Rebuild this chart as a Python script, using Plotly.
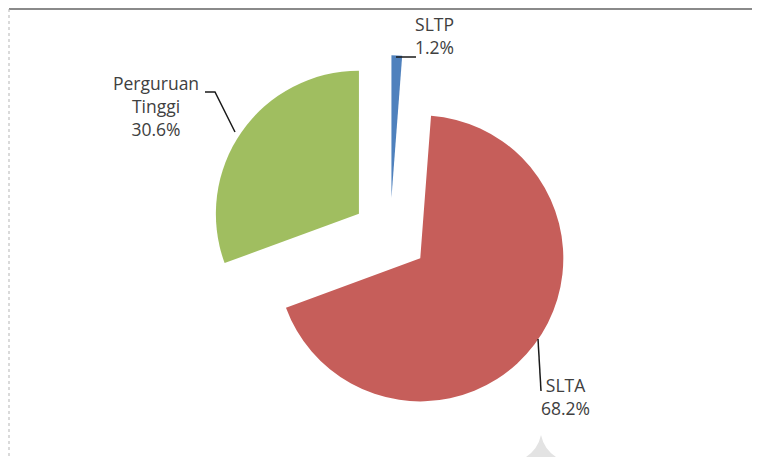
import plotly.graph_objects as go

W, H = 760, 457
OFF = 8  # page body margin: figure is drawn 8px in from the window corner

categories = ["SLTP", "SLTA", "Perguruan Tinggi"]
percentages = [1.2, 68.2, 30.6]
label_text = ["SLTP<br>1.2%", "SLTA<br>68.2%", "Perguruan<br>Tinggi<br>30.6%"]
colors = ["#4F81BD", "#C65E5A", "#A0BE60"]
pulls = [0.26, 0.265, 0.265]

fig = go.Figure()
fig.add_trace(go.Pie(
    labels=categories,
    values=percentages,
    sort=False,
    direction="clockwise",
    rotation=0,
    pull=pulls,
    marker=dict(colors=colors, line=dict(width=0)),
    textinfo="none",
    hoverinfo="label+percent",
    showlegend=False,
    domain=dict(x=[0.2645, 0.7408], y=[0.1062, 0.8982]),
))

# hidden axes in window pixels, for labels and decorations
fig.update_layout(
    xaxis=dict(range=[OFF, W + OFF], visible=False, fixedrange=True),
    yaxis=dict(range=[H + OFF, OFF], visible=False, fixedrange=True),
)

font = dict(family="Open Sans, Noto Sans, sans-serif", size=17.5, color="#404040")
label_pos = [(434, 35), (565, 396), (156, 106)]
for (x, y), txt in zip(label_pos, label_text):
    fig.add_annotation(x=x, y=y, xref="x", yref="y", text=txt, showarrow=False,
                       font=font, align="center", xanchor="center", yanchor="middle")

line = dict(color="#1a1a1a", width=1.5)
shapes = [
    dict(type="path", path="M 396 57 L 416 57", line=line),
    dict(type="path", path="M 205 92 L 215 92 L 235 132", line=line),
    dict(type="path", path="M 538 339 L 541 391", line=line),
    # frame of the chart area
    dict(type="line", x0=9, x1=W + OFF, y0=9, y1=9, line=dict(color="#8a8a8a", width=2)),
    dict(type="line", x0=9, x1=9, y0=9, y1=H + OFF, line=dict(color="#b5b5b5", width=1, dash="dot")),
    dict(type="path", path="M 541 435 Q 538 449 526 457 L 556 457 Q 544 449 541 435 Z",
         fillcolor="#E3E3E3", line=dict(width=0)),
]
for s in shapes:
    fig.add_shape(xref="x", yref="y", **s)

fig.update_layout(
    width=W, height=H,
    margin=dict(l=0, r=0, t=0, b=0),
    paper_bgcolor="white",
    plot_bgcolor="white",
)

fig.write_html("out.html")
